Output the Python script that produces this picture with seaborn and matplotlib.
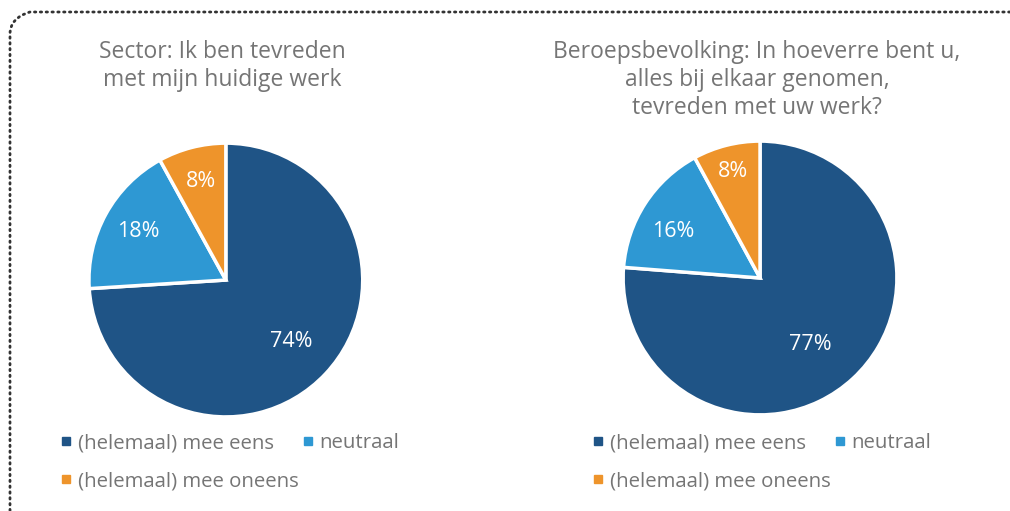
import matplotlib.pyplot as plt
import numpy as np
import seaborn as sns
from matplotlib.lines import Line2D
from matplotlib.patches import PathPatch
from matplotlib.path import Path

# data
categories = ["(helemaal) mee eens", "neutraal", "(helemaal) mee oneens"]
sector_values = [74, 18, 8]
beroeps_values = [77, 16, 8]
titles = ["Sector: Ik ben tevreden\nmet mijn huidige werk",
          "Beroepsbevolking: In hoeverre bent u,\nalles bij elkaar genomen,\ntevreden met uw werk?"]

colors = ["#1f5486", "#2e98d3", "#ee942b"]
text_gray = "#757575"

sns.set_theme(style="white")
plt.rcParams['font.family'] = ['Open Sans', 'DejaVu Sans']

fig = plt.figure(figsize=(10.1, 5.11), dpi=100)


# draw one pie with its title and legend
def draw(ax_rect, values, title, title_x, legend_x, label_pos):
    ax = fig.add_axes(ax_rect)
    wedges, _ = ax.pie(values, colors=colors, startangle=90, counterclock=False,
                       wedgeprops=dict(edgecolor="white", linewidth=2.5))
    # label placement: (distance from centre, angle shift) per wedge
    for w, v, (d, shift) in zip(wedges, values, label_pos):
        ang = np.deg2rad((w.theta1 + w.theta2) / 2 + shift)
        ax.text(d * np.cos(ang), d * np.sin(ang), f"{v}%", ha="center", va="center",
                color="white", fontsize=15.5)
    ax.set_xlim(-0.985, 0.985)
    ax.set_ylim(-0.985, 0.985)
    ax.set_aspect("equal")

    fig.text(title_x, 1 - 40 / 511, title, ha="center", va="top", color=text_gray,
             fontsize=16.5, linespacing=1.22)

    handles = [Line2D([], [], marker="s", linestyle="none", markersize=6, color=c)
               for c in colors]
    order = [0, 2, 1]
    leg = fig.legend([handles[i] for i in order], [categories[i] for i in order],
                     loc="upper left", bbox_to_anchor=(legend_x, 1 - 425 / 511),
                     ncol=2, frameon=False, fontsize=14.7, handlelength=0.6,
                     handletextpad=0.25, columnspacing=0.2, labelspacing=0.9,
                     borderaxespad=0)
    for t in leg.get_texts():
        t.set_color(text_gray)


draw([0.0901, 0.188, 0.267, 0.528], sector_values, titles[0], 222 / 1010, 52 / 1010,
     [(0.66, 0), (0.73, 0), (0.74, 0)])
draw([0.619, 0.192, 0.267, 0.528], beroeps_values, titles[1], 757 / 1010, 584 / 1010,
     [(0.61, -6), (0.72, 5), (0.8, 0)])

# dotted frame along the top and left
W, H = 1010, 511
verts = [(1010 / W, 1 - 12 / H), (30 / W, 1 - 12 / H), (10 / W, 1 - 18 / H),
         (10 / W, 1 - 34 / H), (10 / W, 0)]
codes = [Path.MOVETO, Path.LINETO, Path.CURVE3, Path.CURVE3, Path.LINETO]
frame = PathPatch(Path(verts, codes), transform=fig.transFigure, fill=False,
                  edgecolor="#333333", linewidth=2, linestyle=(0, (0.5, 1.6)),
                  capstyle="round")
fig.patches.append(frame)

plt.savefig("out.png", dpi=100)
